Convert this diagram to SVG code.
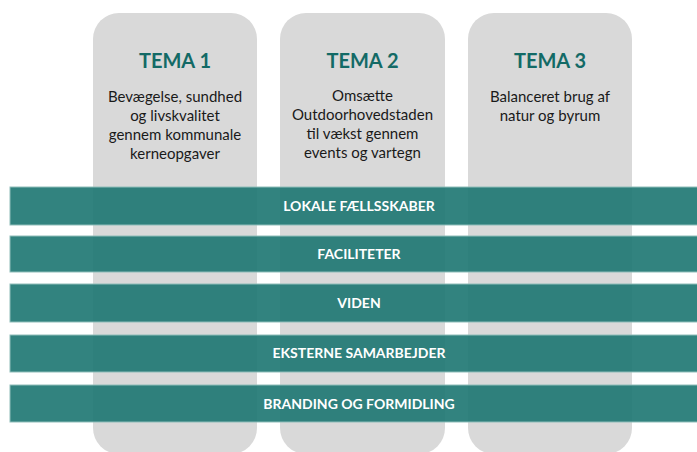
<svg xmlns="http://www.w3.org/2000/svg" width="697" height="452" viewBox="0 0 697 452">
<style>
.col{fill:#d9d9d9}
.title{font-family:Lato,"Open Sans",sans-serif;font-weight:bold;font-size:20px;fill:#136a66;text-anchor:middle}
.body{font-family:Lato,"Open Sans",sans-serif;font-size:15px;fill:#1a1a1a;text-anchor:middle}
.band{fill:#1c7671;fill-opacity:0.9;stroke:#8fbdba;stroke-width:1}
.lbl{font-family:Lato,"Open Sans",sans-serif;font-weight:bold;font-size:14px;fill:#ffffff;text-anchor:middle}
</style>
<rect width="697" height="452" fill="#ffffff"/>
<g id="tema1">
<rect class="col" x="93" y="13" width="164" height="441" rx="26"/>
<text class="title" x="175" y="68">TEMA 1</text>
<text class="body" x="175" y="102">Bevægelse, sundhed</text>
<text class="body" x="175" y="121">og livskvalitet</text>
<text class="body" x="175" y="140">gennem kommunale</text>
<text class="body" x="175" y="159">kerneopgaver</text>
</g>
<g id="tema2">
<rect class="col" x="280" y="13" width="165" height="441" rx="26"/>
<text class="title" x="362.5" y="68">TEMA 2</text>
<text class="body" x="362.5" y="101">Omsætte</text>
<text class="body" x="362.5" y="120">Outdoorhovedstaden</text>
<text class="body" x="362.5" y="139">til vækst gennem</text>
<text class="body" x="362.5" y="158">events og vartegn</text>
</g>
<g id="tema3">
<rect class="col" x="468" y="13" width="164" height="441" rx="26"/>
<text class="title" x="550" y="68">TEMA 3</text>
<text class="body" x="550" y="102">Balanceret brug af</text>
<text class="body" x="550" y="121">natur og byrum</text>
</g>
<g id="bands">
<g id="band1"><rect class="band" x="10" y="187" width="700" height="38"/><text class="lbl" x="359" y="211">LOKALE FÆLLSSKABER</text></g>
<g id="band2"><rect class="band" x="10" y="236" width="700" height="36"/><text class="lbl" x="359" y="259">FACILITETER</text></g>
<g id="band3"><rect class="band" x="10" y="284" width="700" height="38"/><text class="lbl" x="359" y="308">VIDEN</text></g>
<g id="band4"><rect class="band" x="10" y="335" width="700" height="37"/><text class="lbl" x="359" y="358">EKSTERNE SAMARBEJDER</text></g>
<g id="band5"><rect class="band" x="10" y="385" width="700" height="37"/><text class="lbl" x="359" y="409">BRANDING OG FORMIDLING</text></g>
</g>
</svg>
